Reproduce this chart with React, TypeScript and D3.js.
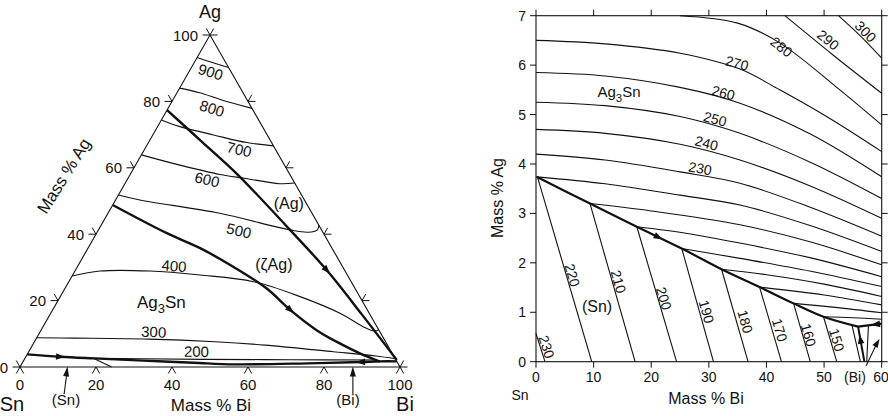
import React from "react";
import * as d3 from "d3";

type Pt = [number, number]; // [mass % Bi, mass % Ag]

// ---------------- Left: ternary liquidus projection ----------------
const ternTicks = [0, 20, 40, 60, 80, 100];

const leftIsotherms: { t: number; pts: Pt[] }[] = [
  { t: 900, pts: [[0, 93.2], [4.5, 91.8], [9.8, 90.2]] },
  { t: 800, pts: [[0, 84], [6, 82.6], [12.4, 80.6], [22.1, 77.9]] },
  { t: 700, pts: [[0, 74.4], [5.9, 72.4], [16, 69.9], [25.9, 67.6], [33.4, 66.6]] },
  { t: 600, pts: [[0, 63.9], [11.7, 60.8], [23.6, 58.0], [31, 56.8], [40.7, 55.2], [44.6, 55.4]] },
  { t: 500, pts: [[0, 51.8], [6.4, 50.3], [29.4, 46.3], [50.4, 41.3], [55.5, 40.6], [57.6, 41.3], [57.3, 42.7]] },
  { t: 400, pts: [[0, 27.4], [6.6, 28.9], [19.7, 28.9], [33.5, 27.7], [48.6, 25.7], [63.1, 21.2], [76.1, 16.2], [85, 11.8], [88, 10.8], [88.8, 11.2]] },
  { t: 300, pts: [[0, 8.8], [10, 8.7], [29.7, 8.4], [47.5, 7.6], [61.1, 6.6], [80.2, 4.6], [92, 3.3], [97.5, 2.5]] },
  { t: 200, pts: [[18, 2.6], [30, 2.5], [47.5, 2.3], [70, 2.2], [93, 2.1]] },
];
const leftSnIsotherms: { t: number; pts: Pt[] }[] = [
  { t: 200, pts: [[18, 2.6], [24.1, 0]] },
];
const leftBoundaries: { name: string; pts: Pt[] }[] = [
  { name: "Ag/zAg", pts: [[0, 77.4], [14, 67.8], [28.5, 57.8], [50.4, 41.3], [66.1, 29.2], [82.2, 15.7], [98.1, 2.1]] },
  { name: "zAg/Ag3Sn", pts: [[0, 48.8], [18.5, 40.3], [29.5, 35.8], [41, 30.2], [53, 23.7], [62.5, 17.2], [72.5, 11.1], [80.6, 7.1], [87.4, 4.1], [93.9, 1.6]] },
  { name: "valley", pts: [[0, 3.8], [9, 3.1], [18, 2.6], [30, 2.0], [45, 1.3], [56, 0.8], [75, 1.1], [89, 1.5], [94, 1.7], [98.3, 1.7]] },
];
const leftArrows: { line: string; at: Pt; dir: number }[] = [
  { line: "valley", at: [9, 3.1], dir: 1 },
  { line: "valley", at: [89, 1.5], dir: -1 },
  { line: "Ag/zAg", at: [66.1, 29.2], dir: 1 },
  { line: "zAg/Ag3Sn", at: [62.5, 17.2], dir: 1 },
];
const leftTempLabels: { t: number; at: Pt }[] = [
  { t: 900, at: [5.7, 88.9] },
  { t: 800, at: [11.6, 77.9] },
  { t: 700, at: [24.9, 65.6] },
  { t: 600, at: [21.0, 56.5] },
  { t: 500, at: [37.1, 41.1] },
  { t: 400, at: [25.3, 30.5] },
  { t: 300, at: [29.9, 10.6] },
  { t: 200, at: [44.1, 4.7] },
];
const leftPhaseLabels: { text: string; at: Pt }[] = [
  { text: "(Ag)", at: [46.1, 49.3] },
  { text: "(ζAg)", at: [51.3, 31.0] },
];
const leftAg3SnAt: Pt = [28.3, 17.8];

// ---------------- Right: Sn-rich corner ----------------
const rightXTicks = [0, 10, 20, 30, 40, 50, 60];
const rightYTicks = [0, 1, 2, 3, 4, 5, 6, 7];

const rightValley: Pt[] = [[0.1, 3.74], [9.37, 3.2], [17.5, 2.73], [25.3, 2.29], [32.2, 1.87], [38.8, 1.51], [44.7, 1.18], [49.9, 0.91], [55.9, 0.71]];
const rightBiValley: Pt[] = [[60, 0.77], [58, 0.74], [55.9, 0.71]];
const rightSnBiValley: Pt[] = [[57.0, 0], [55.9, 0.71]];

const rightUpperIsotherms: { t: number; pts: Pt[] }[] = [
  { t: 300, pts: [[52.5, 7], [56.2, 6.6], [60, 6.14]] },
  { t: 290, pts: [[43.2, 7], [51.6, 6.2], [60, 5.43]] },
  { t: 280, pts: [[25, 7], [35, 6.85], [42.3, 6.45], [52.2, 5.55], [60, 4.79]] },
  { t: 270, pts: [[0, 6.5], [12, 6.43], [25, 6.24], [35.4, 5.92], [42.3, 5.5], [51, 4.92], [60, 4.25]] },
  { t: 260, pts: [[0, 5.85], [12, 5.78], [25, 5.55], [35.4, 5.23], [47.7, 4.6], [60, 3.74]] },
  { t: 250, pts: [[0, 5.25], [12, 5.18], [25, 4.96], [35.4, 4.62], [47.7, 4.03], [60, 3.30]] },
  { t: 240, pts: [[0, 4.70], [12, 4.62], [25, 4.40], [35.4, 4.08], [47.7, 3.55], [60, 2.90]] },
  { t: 230, pts: [[0, 4.20], [12, 4.08], [25, 3.84], [35.4, 3.61], [47.7, 3.12], [60, 2.54]] },
  { t: 220, pts: [[0.1, 3.74], [12, 3.6], [25, 3.37], [35.4, 3.17], [47.7, 2.75], [60, 2.23]] },
  { t: 210, pts: [[9.37, 3.2], [20, 3.05], [35.4, 2.77], [47.7, 2.42], [60, 1.96]] },
  { t: 200, pts: [[17.5, 2.73], [26, 2.6], [35.4, 2.40], [47.7, 2.1], [60, 1.72]] },
  { t: 190, pts: [[25.3, 2.29], [35.4, 2.09], [47.7, 1.83], [60, 1.52]] },
  { t: 180, pts: [[32.2, 1.87], [40, 1.76], [50, 1.57], [60, 1.32]] },
  { t: 170, pts: [[38.8, 1.51], [50, 1.35], [60, 1.15]] },
  { t: 160, pts: [[44.7, 1.18], [52, 1.1], [60, 0.99]] },
  { t: 150, pts: [[49.9, 0.91], [55, 0.89], [60, 0.86]] },
];
const rightSnIsotherms: { t: number; pts: Pt[] }[] = [
  { t: 230, pts: [[0, 0.57], [1.56, 0]] },
  { t: 220, pts: [[0.3, 3.72], [9.67, 0]] },
  { t: 210, pts: [[9.37, 3.2], [17.2, 0]] },
  { t: 200, pts: [[17.5, 2.73], [24.4, 0]] },
  { t: 190, pts: [[25.3, 2.29], [30.8, 0]] },
  { t: 180, pts: [[32.2, 1.87], [36.8, 0]] },
  { t: 170, pts: [[38.8, 1.51], [42.6, 0]] },
  { t: 160, pts: [[44.7, 1.18], [47.6, 0]] },
  { t: 150, pts: [[49.9, 0.91], [52.2, 0]] },
  { t: 140, pts: [[54.8, 0.76], [56.3, 0]] },
];
const rightBiIsotherms: { t: number; pts: Pt[] }[] = [
  { t: 140, pts: [[57.7, 0.74], [57.4, 0]] },
];
const rightUpperLabels: { t: number; at: Pt }[] = [
  { t: 300, at: [57.2, 6.68] },
  { t: 290, at: [50.7, 6.51] },
  { t: 280, at: [42.6, 6.37] },
  { t: 270, at: [34.9, 6.04] },
  { t: 260, at: [32.5, 5.44] },
  { t: 250, at: [31.1, 4.91] },
  { t: 240, at: [29.6, 4.42] },
  { t: 230, at: [28.5, 3.91] },
];
const rightSnLabels: { t: number; at: Pt }[] = [
  { t: 230, at: [1.85, 0.30] },
  { t: 220, at: [6.3, 1.75] },
  { t: 210, at: [14.3, 1.62] },
  { t: 200, at: [22.2, 1.28] },
  { t: 190, at: [29.6, 1.01] },
  { t: 180, at: [36.3, 0.81] },
  { t: 170, at: [42.3, 0.64] },
  { t: 160, at: [47.3, 0.54] },
  { t: 150, at: [52.2, 0.44] },
];
const rightArrows: { line: string; at: Pt; dir: number }[] = [
  { line: "valley", at: [21.2, 2.52], dir: 1 },
  { line: "biValley", at: [59, 0.76], dir: 1 },
  { line: "snBiValley", at: [56.4, 0.45], dir: 1 },
];

// ---------------- helpers ----------------
const FONT = "'Liberation Sans', Arial, Helvetica, sans-serif";
type XY = [number, number];

function nearest(pts: XY[], p: XY) {
  let best = { d: Infinity, x: p[0], y: p[1], ang: 0 };
  for (let i = 0; i < pts.length - 1; i++) {
    const a = pts[i], b = pts[i + 1];
    const dx = b[0] - a[0], dy = b[1] - a[1];
    const L2 = dx * dx + dy * dy || 1;
    let t = ((p[0] - a[0]) * dx + (p[1] - a[1]) * dy) / L2;
    t = Math.max(0, Math.min(1, t));
    const qx = a[0] + t * dx, qy = a[1] + t * dy;
    const d = Math.hypot(p[0] - qx, p[1] - qy);
    if (d < best.d) best = { d, x: qx, y: qy, ang: (Math.atan2(dy, dx) * 180) / Math.PI };
  }
  return best;
}
function readable(a: number) {
  if (a > 90) return a - 180;
  if (a < -90) return a + 180;
  return a;
}
function arrowPoly(x: number, y: number, angDeg: number, len = 9, hw = 3.3) {
  const r = (angDeg * Math.PI) / 180;
  const ux = Math.cos(r), uy = Math.sin(r);
  const nx = -uy, ny = ux;
  const tip = [x + ux * len * 0.55, y + uy * len * 0.55];
  const b1 = [x - ux * len * 0.45 + nx * hw, y - uy * len * 0.45 + ny * hw];
  const b2 = [x - ux * len * 0.45 - nx * hw, y - uy * len * 0.45 - ny * hw];
  return `${tip[0]},${tip[1]} ${b1[0]},${b1[1]} ${b2[0]},${b2[1]}`;
}

export default function App() {
  // left scales (ternary projection: x from Bi + Ag/2, y from Ag)
  const xL = d3.scaleLinear().domain([0, 100]).range([20, 400]);
  const yL = d3.scaleLinear().domain([0, 100]).range([367, 35]);
  const projL = (p: Pt): XY => [xL(p[0] + p[1] / 2), yL(p[1])];
  // right scales
  const xR = d3.scaleLinear().domain([0, 60]).range([536, 881.7]);
  const yR = d3.scaleLinear().domain([0, 7]).range([361.7, 15.7]);
  const projR = (p: Pt): XY => [xR(p[0]), yR(p[1])];

  const smooth = d3.line<XY>().curve(d3.curveCatmullRom.alpha(0.5));
  const straight = d3.line<XY>();

  const S = projL([0, 0]), B = projL([100, 0]), A = projL([0, 100]);
  const unit = (a: XY, b: XY): XY => {
    const dx = b[0] - a[0], dy = b[1] - a[1], l = Math.hypot(dx, dy);
    return [dx / l, dy / l];
  };
  const uSA = unit(S, A), uBA = unit(B, A);
  const TL = 7.5;

  const tickSegs: { x1: number; y1: number; x2: number; y2: number }[] = [];
  const addTick = (p: XY, d: XY) => tickSegs.push({ x1: p[0], y1: p[1], x2: p[0] + d[0] * TL, y2: p[1] + d[1] * TL });
  ternTicks.forEach((v) => {
    const pb = projL([v, 0]);
    addTick(pb, [-uSA[0], -uSA[1]]);
    addTick(pb, [-uBA[0], -uBA[1]]);
    const pl = projL([0, v]);
    addTick(pl, [-1, 0]);
    addTick(pl, uBA);
    const pr = projL([100 - v, v]);
    addTick(pr, [1, 0]);
    addTick(pr, uSA);
  });

  const leftBoundaryPix: Record<string, XY[]> = {};
  leftBoundaries.forEach((b) => (leftBoundaryPix[b.name] = b.pts.map(projL)));
  const rightLinePix: Record<string, XY[]> = {
    valley: rightValley.map(projR),
    biValley: rightBiValley.map(projR),
    snBiValley: rightSnBiValley.map(projR),
  };

  const numStyle = { fontFamily: FONT, fill: "#111" } as const;

  const plotL = 536, plotR = 881.7, plotT = 15.7, plotB = 361.7;

  return (
    <svg width={888} height={416} style={{ position: "absolute", left: 0, top: 0, background: "#fff" }} fontFamily={FONT}>
      <rect x={0} y={0} width={888} height={416} fill="#fff" />
      {/* ===== Left ternary ===== */}
      <polygon points={[S, B, A].map((p) => p.join(",")).join(" ")} fill="none" stroke="#111" strokeWidth={1.1} />
      {tickSegs.map((t, i) => (
        <line key={"tk" + i} {...t} stroke="#111" strokeWidth={1} />
      ))}
      {ternTicks.map((v) => {
        const p = projL([v, 0]);
        return (
          <text key={"bl" + v} x={p[0]} y={390} textAnchor="middle" fontSize={15} style={numStyle}>
            {v}
          </text>
        );
      })}
      {ternTicks.map((v) => {
        const p = projL([0, v]);
        return (
          <text key={"ll" + v} x={p[0] - 12} y={p[1] + 5.5} textAnchor="end" fontSize={15} style={numStyle}>
            {v}
          </text>
        );
      })}
      {leftIsotherms.map((iso) => (
        <path key={"li" + iso.t} d={smooth(iso.pts.map(projL)) || ""} fill="none" stroke="#111" strokeWidth={1.1} />
      ))}
      {leftSnIsotherms.map((iso) => (
        <path key={"lsi" + iso.t} d={straight(iso.pts.map(projL)) || ""} fill="none" stroke="#111" strokeWidth={1.1} />
      ))}
      {leftBoundaries.map((b) => (
        <path key={"lb" + b.name} d={smooth(leftBoundaryPix[b.name]) || ""} fill="none" stroke="#111" strokeWidth={2.4} />
      ))}
      {leftArrows.map((a, i) => {
        const n = nearest(leftBoundaryPix[a.line], projL(a.at));
        return <polygon key={"la" + i} points={arrowPoly(n.x, n.y, n.ang + (a.dir < 0 ? 180 : 0))} fill="#111" />;
      })}
      {leftTempLabels.map((l) => {
        const iso = leftIsotherms.find((d) => d.t === l.t)!;
        const p = projL(l.at);
        const ang = readable(nearest(iso.pts.map(projL), p).ang);
        return (
          <text key={"lt" + l.t} x={p[0]} y={p[1]} textAnchor="middle" dominantBaseline="central" fontSize={15} style={numStyle} transform={`rotate(${ang},${p[0]},${p[1]})`}>
            {l.t}
          </text>
        );
      })}
      {leftPhaseLabels.map((l) => {
        const p = projL(l.at);
        return (
          <text key={"lp" + l.text} x={p[0]} y={p[1]} textAnchor="middle" dominantBaseline="central" fontSize={16} style={numStyle}>
            {l.text}
          </text>
        );
      })}
      {(() => {
        const p = projL(leftAg3SnAt);
        return (
          <text x={p[0]} y={p[1]} textAnchor="middle" fontSize={17} style={numStyle}>
            Ag<tspan dy={5} fontSize={13}>3</tspan>
            <tspan dy={-5}>Sn</tspan>
          </text>
        );
      })()}
      {/* corner & axis titles */}
      <text x={A[0]} y={18} textAnchor="middle" fontSize={18} style={numStyle}>Ag</text>
      <text x={12} y={411} textAnchor="middle" fontSize={20} style={numStyle}>Sn</text>
      <text x={405} y={411} textAnchor="middle" fontSize={20} style={numStyle}>Bi</text>
      <text x={211} y={411} textAnchor="middle" fontSize={17} style={numStyle}>Mass % Bi</text>
      <text x={64} y={176} textAnchor="middle" dominantBaseline="central" fontSize={17} style={numStyle} transform="rotate(-58,64,176)">
        Mass % Ag
      </text>
      {/* (Sn) and (Bi) pointers */}
      {(() => {
        const tSn = projL([12.4, 0]);
        const tBi = projL([87.6, 0]);
        return (
          <g>
            <line x1={tSn[0] - 3} y1={tSn[1] + 27} x2={tSn[0]} y2={tSn[1] + 4} stroke="#111" strokeWidth={1.1} />
            <polygon points={arrowPoly(tSn[0] - 0.4, tSn[1] + 5, -82, 10, 3)} fill="#111" />
            <text x={66} y={405} textAnchor="middle" fontSize={15} style={numStyle}>(Sn)</text>
            <line x1={tBi[0]} y1={tBi[1] + 27} x2={tBi[0]} y2={tBi[1] + 4} stroke="#111" strokeWidth={1.1} />
            <polygon points={arrowPoly(tBi[0], tBi[1] + 5, -90, 10, 3)} fill="#111" />
            <text x={348} y={405} textAnchor="middle" fontSize={15} style={numStyle}>(Bi)</text>
          </g>
        );
      })()}

      {/* ===== Right chart ===== */}
      <rect x={plotL} y={plotT} width={plotR - plotL} height={plotB - plotT} fill="none" stroke="#111" strokeWidth={1.1} />
      {rightYTicks.map((v) => (
        <g key={"ry" + v}>
          <line x1={plotL - 6} x2={plotL} y1={yR(v)} y2={yR(v)} stroke="#111" />
          <line x1={plotR} x2={plotR + 6} y1={yR(v)} y2={yR(v)} stroke="#111" />
          <text x={plotL - 10} y={yR(v) + 5} textAnchor="end" fontSize={14} style={numStyle}>{v}</text>
        </g>
      ))}
      {rightXTicks.map((v) => (
        <g key={"rx" + v}>
          <line x1={xR(v)} x2={xR(v)} y1={plotB} y2={plotB + 6} stroke="#111" />
          <line x1={xR(v)} x2={xR(v)} y1={plotT - 6} y2={plotT} stroke="#111" />
          {v !== 60 && <text x={xR(v)} y={381.5} textAnchor="middle" fontSize={14} style={numStyle}>{v}</text>}
        </g>
      ))}
      <text x={881} y={381.5} textAnchor="middle" fontSize={14} style={numStyle}>60</text>
      {rightUpperIsotherms.map((iso) => (
        <path key={"ru" + iso.t} d={smooth(iso.pts.map(projR)) || ""} fill="none" stroke="#111" strokeWidth={1.1} />
      ))}
      {rightSnIsotherms.map((iso) => (
        <path key={"rs" + iso.t} d={straight(iso.pts.map(projR)) || ""} fill="none" stroke="#111" strokeWidth={1.1} />
      ))}
      {rightBiIsotherms.map((iso) => (
        <path key={"rb" + iso.t} d={straight(iso.pts.map(projR)) || ""} fill="none" stroke="#111" strokeWidth={1.1} />
      ))}
      <path d={smooth(rightLinePix.valley) || ""} fill="none" stroke="#111" strokeWidth={2.2} />
      <path d={straight(rightLinePix.biValley) || ""} fill="none" stroke="#111" strokeWidth={2.2} />
      <path d={straight(rightLinePix.snBiValley) || ""} fill="none" stroke="#111" strokeWidth={2} />
      {rightArrows.map((a, i) => {
        const n = nearest(rightLinePix[a.line], projR(a.at));
        return <polygon key={"ra" + i} points={arrowPoly(n.x, n.y, n.ang + (a.dir < 0 ? 180 : 0))} fill="#111" />;
      })}
      {rightUpperLabels.map((l) => {
        const iso = rightUpperIsotherms.find((d) => d.t === l.t)!;
        const p = projR(l.at);
        const ang = readable(nearest(iso.pts.map(projR), p).ang);
        return (
          <text key={"rul" + l.t} x={p[0]} y={p[1]} textAnchor="middle" dominantBaseline="central" fontSize={14} style={numStyle} transform={`rotate(${ang},${p[0]},${p[1]})`}>
            {l.t}
          </text>
        );
      })}
      {rightSnLabels.map((l) => {
        const iso = rightSnIsotherms.find((d) => d.t === l.t)!;
        const p = projR(l.at);
        const ang = nearest(iso.pts.map(projR), p).ang;
        return (
          <text key={"rsl" + l.t} x={p[0]} y={p[1]} textAnchor="middle" dominantBaseline="central" fontSize={14} style={numStyle} transform={`rotate(${ang},${p[0]},${p[1]})`}>
            {l.t}
          </text>
        );
      })}
      <text x={619} y={97} textAnchor="middle" fontSize={15} style={numStyle}>
        Ag<tspan dy={4.5} fontSize={11.5}>3</tspan>
        <tspan dy={-4.5}>Sn</tspan>
      </text>
      <text x={597} y={312} textAnchor="middle" fontSize={16} style={numStyle}>(Sn)</text>
      <text x={855} y={381.5} textAnchor="middle" fontSize={14} style={numStyle}>(Bi)</text>
      {(() => {
        const tail = projR([57.3, 0]);
        const tip = projR([59.2, 0.38]);
        const ang = (Math.atan2(tip[1] - tail[1], tip[0] - tail[0]) * 180) / Math.PI;
        return (
          <g>
            <line x1={tail[0]} y1={tail[1] + 4} x2={tip[0]} y2={tip[1]} stroke="#111" strokeWidth={1.1} />
            <polygon points={arrowPoly(tip[0], tip[1], ang, 9, 3)} fill="#111" />
          </g>
        );
      })()}
      <text x={520} y={400} textAnchor="middle" fontSize={14} style={numStyle}>Sn</text>
      <text x={706} y={404} textAnchor="middle" fontSize={16} style={numStyle}>Mass % Bi</text>
      <text x={503} y={198} textAnchor="middle" fontSize={16} style={numStyle} transform="rotate(-90,503,198)">Mass % Ag</text>
    </svg>
  );
}
